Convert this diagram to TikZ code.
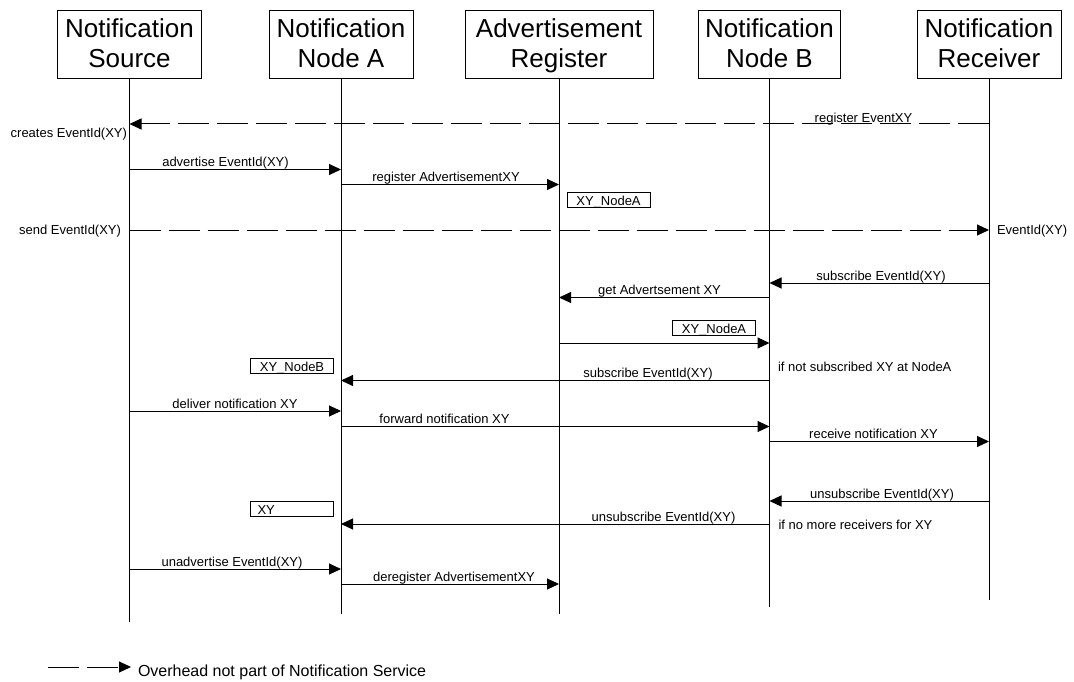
\documentclass[tikz,border=0pt]{standalone}
\usepackage{fontspec}
\setmainfont{Liberation Sans}
\usetikzlibrary{arrows.meta}
% first-line strut a little taller so the two header lines sit lower in their box
\newcommand{\topstrut}{\rule{0pt}{24pt}}
\begin{document}
\begin{tikzpicture}[x=1pt,y=-1pt,
  every node/.style={inner sep=0pt, outer sep=0pt},
  actor/.style={draw, line width=1pt, minimum height=68pt, align=center,
    font=\fontsize{26}{29.4}\selectfont},
  life/.style={line width=1pt},
  msg/.style={line width=1pt, -{Triangle[length=12pt,width=11pt]}},
  ovh/.style={msg, dash pattern=on 31pt off 8pt},
  lbl/.style={font=\fontsize{13}{15.6}\selectfont, anchor=base},
  note/.style={lbl, anchor=base west},
  side/.style={lbl, anchor=base east},
  memo/.style={draw, line width=1pt, minimum width=83pt, minimum height=15pt,
    text height=11.5pt, text depth=0pt, font=\fontsize{13}{15.6}\selectfont}
]
\useasboundingbox (0,0) rectangle (1074,682);

% participants
\node[actor, minimum width=144pt] (src) at (129.5,45) {\topstrut\strut Notification\\\strut Source};
\node[actor, minimum width=144pt] (nda) at (341,45) {\topstrut\strut Notification\\\strut Node A};
\node[actor, minimum width=188pt] (reg) at (559,45) {\topstrut\strut Advertisement\\\strut Register};
\node[actor, minimum width=142pt] (ndb) at (769.5,45) {\topstrut\strut Notification\\\strut Node B};
\node[actor, minimum width=144pt] (rcv) at (989,45) {\topstrut\strut Notification\\\strut Receiver};

% lifelines
\coordinate (srcEnd) at (129.5,622);
\coordinate (ndaEnd) at (341,614);
\coordinate (regEnd) at (559,614);
\coordinate (ndbEnd) at (769.5,607);
\coordinate (rcvEnd) at (989,599.5);
\draw[life] (src.south) -- (srcEnd);
\draw[life] (nda.south) -- (ndaEnd);
\draw[life] (reg.south) -- (regEnd);
\draw[life] (ndb.south) -- (ndbEnd);
\draw[life] (rcv.south) -- (rcvEnd);

% event creation
\draw[ovh] (rcv |- 0,124) -- (src |- 0,124);
\node[lbl] (t1) at (863.5,123) {register EventXY};
\node[side] (t2) at (127,138) {creates EventId(XY)};

% advertisement
\draw[msg] (src |- 0,169.5) -- (nda |- 0,169.5);
\node[lbl] (t3) at (225.5,166.5) {advertise EventId(XY)};
\draw[msg] (nda |- 0,184.5) -- (reg |- 0,184.5);
\node[lbl] (t4) at (446,181.5) {register AdvertisementXY};
\node[memo] (m1) at (608.5,199.5) {XY\_NodeA};

% event delivery outside the service
\draw[ovh] (src |- 0,230) -- (rcv |- 0,230);
\node[side] (t5) at (121,234.5) {send EventId(XY)};
\node[note] (t6) at (997,234.5) {EventId(XY)};

% subscription
\draw[msg] (rcv |- 0,283) -- (ndb |- 0,283);
\node[lbl] (t7) at (881,280) {subscribe EventId(XY)};
\draw[msg] (ndb |- 0,297.5) -- (reg |- 0,297.5);
\node[lbl] (t8) at (659.5,294.5) {get Advertsement XY};
\node[memo] (m2) at (714,328) {XY\_NodeA};
\draw[msg] (reg |- 0,343) -- (ndb |- 0,343);
\node[note] (t9) at (778,371) {if not subscribed XY at NodeA};
\node[memo] (m3) at (292,366) {XY\_NodeB};
\draw[msg] (ndb |- 0,380.5) -- (nda |- 0,380.5);
\node[lbl] (t10) at (648,377.5) {subscribe EventId(XY)};

% notification
\draw[msg] (src |- 0,411) -- (nda |- 0,411);
\node[lbl] (t11) at (235,408) {deliver notification XY};
\draw[msg] (nda |- 0,426.5) -- (ndb |- 0,426.5);
\node[lbl] (t12) at (444.5,423.5) {forward notification XY};
\draw[msg] (ndb |- 0,441.5) -- (rcv |- 0,441.5);
\node[lbl] (t13) at (873.5,438.5) {receive notification XY};

% unsubscription
\draw[msg] (rcv |- 0,501) -- (ndb |- 0,501);
\node[lbl] (t14) at (882,498) {unsubscribe EventId(XY)};
\node[memo] (m4) at (292,509) {\makebox[69pt][l]{XY}};
\draw[msg] (ndb |- 0,524) -- (nda |- 0,524);
\node[lbl] (t15) at (663.5,521) {unsubscribe EventId(XY)};
\node[note] (t16) at (778.5,529) {if no more receivers for XY};

% withdrawal of the advertisement
\draw[msg] (src |- 0,569) -- (nda |- 0,569);
\node[lbl] (t17) at (232,566) {unadvertise EventId(XY)};
\draw[msg] (nda |- 0,584) -- (reg |- 0,584);
\node[lbl] (t18) at (454,581) {deregister AdvertisementXY};

% legend
\coordinate (lgA) at (48,667);
\coordinate (lgB) at (131,667);
\draw[ovh] (lgA) -- (lgB);
\node[note, font=\fontsize{16}{19}\selectfont] (lgT) at (138,676) {Overhead not part of Notification Service};
\end{tikzpicture}
\end{document}
